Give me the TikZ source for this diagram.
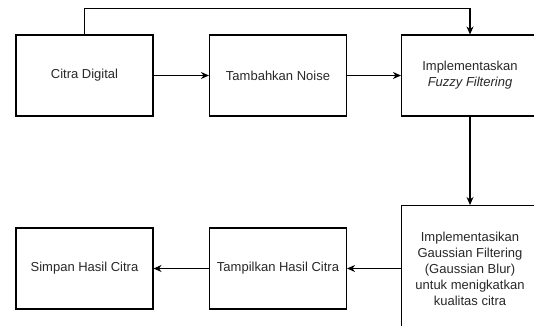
\documentclass[tikz,border=0pt]{standalone}
\usepackage{fontspec}
\setmainfont{Liberation Sans}
\usetikzlibrary{arrows.meta}
\definecolor{txtgray}{RGB}{40, 40, 40}

\begin{document}
\begin{tikzpicture}[
  x=1pt, y=1pt,
  >={Stealth[length=8pt, width=7pt]},
  line width=1.1pt,
  box/.style={draw, black, fill=white, minimum width=137pt,
    minimum height=81pt, align=center, inner sep=2pt,
    text=txtgray, font=\fontsize{13}{16}\selectfont},
]

%% ─── 座標系 ────────────────────────────────────────────────
%%  1 unit = 1 px of 534 x 325,  y 上向き
\clip (0,0) rectangle (534,325);

% ── 上段 ─────────────────────────────────────────────────────
\node[box] (citra)  at (84.5,249.5) {Citra Digital};
\node[box] (noise)  at (278,249.5)  {Tambahkan Noise};
\node[box] (fuzzy)  at (470,249.5)
  {Implementaskan\\\textit{Fuzzy Filtering}};

% ── 下段 ─────────────────────────────────────────────────────
\node[box, minimum height=126pt] (gauss) at (470,56.5)
  {Implementasikan\\Gaussian Filtering\\(Gaussian Blur)\\untuk menigkatkan\\kualitas citra};
\node[box] (tampil) at (278,56.5)  {Tampilkan Hasil Citra};
\node[box] (simpan) at (84.5,56.5) {Simpan Hasil Citra};

% ── 矢印 ─────────────────────────────────────────────────────
\draw[->] (citra) -- (noise);
\draw[->] (noise) -- (fuzzy);
\draw[->] (citra.north) |- (84.5,316.5) -| (fuzzy.north);
\draw[->] (fuzzy) -- (gauss);
\draw[->] (gauss) -- (tampil);
\draw[->] (tampil) -- (simpan);

\end{tikzpicture}
\end{document}
